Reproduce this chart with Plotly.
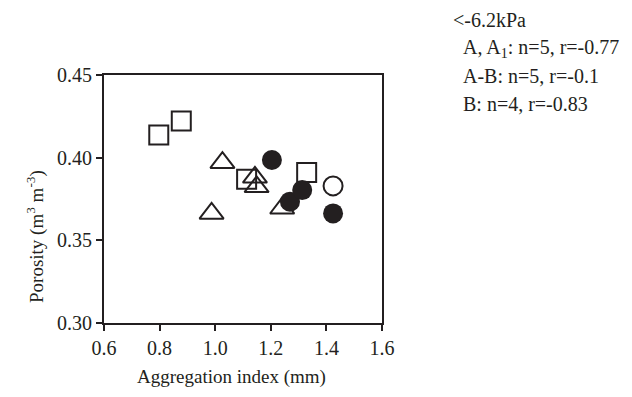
import plotly.graph_objects as go

# Data
sq_x = [0.797, 0.878, 1.113, 1.329]
sq_y = [0.4137, 0.4222, 0.3869, 0.3911]

tri_x = [1.026, 0.987, 1.143, 1.149, 1.241]
tri_y = [0.3970, 0.3663, 0.3881, 0.3824, 0.3694]

open_c_x = [1.424]
open_c_y = [0.3829]

fill_c_x = [1.204, 1.424, 1.269, 1.313]
fill_c_y = [0.3986, 0.3663, 0.3734, 0.3804]

x_ticks = [0.6, 0.8, 1.0, 1.2, 1.4, 1.6]
x_tick_labels = ["0.6", "0.8", "1.0", "1.2", "1.4", "1.6"]
y_ticks = [0.30, 0.35, 0.40, 0.45]
y_tick_labels = ["0.30", "0.35", "0.40", "0.45"]

legend_lines = [
    ("<-6.2kPa", 452, 20),
    ("A, A<sub>1</sub>: n=5, r=-0.77", 462, 48),
    ("A-B: n=5, r=-0.1", 462, 76),
    ("B: n=4, r=-0.83", 462, 104),
]
x_title = "Aggregation index (mm)"
y_title = "Porosity (m<sup>3</sup> m<sup>-3</sup>)"

FONT = "Liberation Serif"
INK = "#231f20"

fig = go.Figure()
fig.add_trace(go.Scatter(x=sq_x, y=sq_y, mode="markers",
                         marker=dict(symbol="square-open", size=19, color=INK,
                                     line=dict(width=2, color=INK))))
fig.add_trace(go.Scatter(x=tri_x, y=tri_y, mode="markers",
                         marker=dict(symbol="triangle-up-open", size=21, color=INK,
                                     line=dict(width=2, color=INK))))
fig.add_trace(go.Scatter(x=open_c_x, y=open_c_y, mode="markers",
                         marker=dict(symbol="circle-open", size=19, color=INK,
                                     line=dict(width=2, color=INK))))
fig.add_trace(go.Scatter(x=fill_c_x, y=fill_c_y, mode="markers",
                         marker=dict(symbol="circle", size=20, color=INK,
                                     line=dict(width=0))))

# page coordinates of the plot box (the html body adds an 8px margin)
OFF = 8
L, R, T, B = 104, 382, 75, 323
W, H = 632 - 2 * OFF, 397 - 2 * OFF


def px2paper_x(px):
    return (px - L) / (R - L)


def px2paper_y(py):
    return (B - py) / (B - T)


for text, px, py in legend_lines:
    fig.add_annotation(text=text, xref="paper", yref="paper",
                       x=px2paper_x(px), y=px2paper_y(py),
                       xanchor="left", yanchor="middle", showarrow=False,
                       borderpad=0,
                       font=dict(family=FONT, size=20, color=INK))

fig.add_annotation(text=x_title, xref="paper", yref="paper",
                   x=px2paper_x(231), y=px2paper_y(377),
                   xanchor="center", yanchor="middle", showarrow=False,
                   borderpad=0,
                   font=dict(family=FONT, size=19, color=INK))
fig.add_annotation(text=y_title, xref="paper", yref="paper",
                   x=px2paper_x(35), y=px2paper_y(237), textangle=-90,
                   xanchor="center", yanchor="middle", showarrow=False,
                   borderpad=0,
                   font=dict(family=FONT, size=19, color=INK))

fig.update_layout(
    width=W, height=H,
    margin=dict(l=L - OFF, r=W - (R - OFF), t=T - OFF, b=H - (B - OFF), pad=0),
    paper_bgcolor="white", plot_bgcolor="white",
    showlegend=False,
    font=dict(family=FONT, size=20, color=INK),
)
fig.update_xaxes(range=[0.6, 1.6], tickvals=x_ticks, ticktext=x_tick_labels,
                 showgrid=False, zeroline=False, showline=True, mirror=True,
                 linecolor=INK, linewidth=2, ticks="outside", ticklen=6,
                 tickwidth=2, tickcolor=INK,
                 tickfont=dict(family=FONT, size=20, color=INK))
fig.update_yaxes(range=[0.30, 0.45], tickvals=y_ticks, ticktext=y_tick_labels,
                 showgrid=False, zeroline=False, showline=True, mirror=True,
                 linecolor=INK, linewidth=2, ticks="outside", ticklen=6,
                 tickwidth=2, tickcolor=INK,
                 tickfont=dict(family=FONT, size=20, color=INK))

fig.write_html("out.html")
